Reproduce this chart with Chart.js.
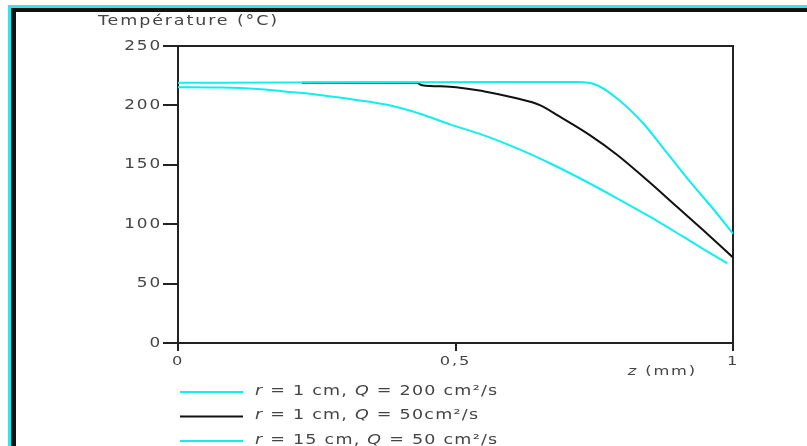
<!DOCTYPE html>
<html><head><meta charset="utf-8">
<script src="https://cdn.jsdelivr.net/npm/chart.js@4.4.0/dist/chart.umd.min.js"></script>
<style>
html,body{margin:0;padding:0;background:#fff;}
#wrap{position:relative;width:807px;height:446px;overflow:hidden;background:#fff;}
canvas{position:absolute;left:0;top:0;}
.b1{position:absolute;left:8px;top:5px;right:-10px;bottom:-10px;border-top:3px solid #30e8ec;border-left:3px solid #30e8ec;}
.b2{position:absolute;left:11px;top:8px;right:-10px;bottom:-10px;border-top:4px solid #111;border-left:5px solid #111;}
</style></head><body>
<div id="wrap"><canvas id="c" width="807" height="446"></canvas><div class="b1"></div><div class="b2"></div></div>
<script>
// ---- data ----
const xTickValues = [0, 0.5, 1];
const xTickLabels = ['0', '0,5', '1'];
const yTickValues = [0, 50, 100, 150, 200, 250];
const yTitle = 'Température (°C)';
const xTitle = 'z (mm)';
const legendLabels = ['r = 1 cm, Q = 200 cm²/s', 'r = 1 cm, Q = 50cm²/s', 'r = 15 cm, Q = 50 cm²/s'];
const seriesColors = ['#12eef0', '#111111', '#12eef0'];

const zA = [0, 0.2, 0.4, 0.6, 0.72, 0.755, 0.796, 0.838, 0.881, 0.922, 0.964, 1.0];
const tA = [219, 219.3, 219.5, 219.6, 219.6, 217, 204, 185, 160, 136, 113, 92];

const zB = [0.223, 0.43, 0.44, 0.49, 0.55, 0.61, 0.652, 0.688, 0.742, 0.791, 0.845, 0.899, 0.946, 1.0];
const tB = [219, 219, 217, 215.8, 212, 206, 200.3, 190.5, 175, 158.5, 137.2, 114.7, 95.1, 72];

const zC = [0, 0.08, 0.144, 0.196, 0.225, 0.256, 0.315, 0.377, 0.436, 0.49, 0.55, 0.61, 0.67, 0.73, 0.791, 0.85, 0.91, 0.958, 0.989];
const tC = [215.2, 215, 213.8, 211.5, 210.4, 208.7, 205, 200.5, 193, 184, 175, 164, 151.3, 137.2, 121.8, 106.3, 89.5, 75.8, 67.3];

const seriesZ = [zA, zB, zC];
const seriesT = [tA, tB, tC];

const FONT = '"DejaVu Sans", sans-serif';
const TXT = '#444';
const SPACING = '1.5px';
const STRETCH = 1.25;

const datasets = seriesZ.map((zs, i) => ({
  label: legendLabels[i],
  data: zs.map((z, k) => ({x: z, y: seriesT[i][k]})),
  borderColor: seriesColors[i],
  borderWidth: 2,
  pointRadius: 0,
  fill: false,
  cubicInterpolationMode: 'monotone'
}));

function drawRich(ctx, str, x, y, size, measureOnly) {
  const parts = str.split(/([rQz])/).filter(s => s.length);
  let cx = x;
  for (const p of parts) {
    const it = (p === 'r' || p === 'Q' || p === 'z');
    ctx.font = (it ? 'italic ' : '') + size + 'px ' + FONT;
    if (!measureOnly) ctx.fillText(p, cx, y);
    cx += ctx.measureText(p).width;
  }
  return cx - x;
}

// wide-lettered text: stretch glyphs horizontally around their anchor
const stretchPlugin = {
  id: 'stretch',
  beforeInit(chart) {
    const ctx = chart.ctx;
    const of = ctx.fillText.bind(ctx);
    const om = ctx.measureText.bind(ctx);
    ctx.fillText = function (t, x, y, mw) {
      ctx.save();
      ctx.translate(x, y);
      ctx.scale(STRETCH, 1);
      of(t, 0, 0);
      ctx.restore();
    };
    ctx.measureText = function (t) {
      const m = om(t);
      return {width: m.width * STRETCH, actualBoundingBoxAscent: m.actualBoundingBoxAscent,
        actualBoundingBoxDescent: m.actualBoundingBoxDescent};
    };
  },
  beforeLayout(chart) { chart.ctx.letterSpacing = SPACING; },
  beforeDraw(chart) { chart.ctx.letterSpacing = SPACING; }
};

const framePlugin = {
  id: 'frame',
  beforeDatasetsDraw(chart) {
    const {ctx, chartArea: a} = chart;
    ctx.save();
    ctx.strokeStyle = '#222';
    ctx.lineWidth = 2;
    ctx.beginPath();
    ctx.moveTo(a.left, a.top);
    ctx.lineTo(a.right, a.top);
    ctx.lineTo(a.right, a.bottom);
    ctx.stroke();
    ctx.restore();
  }
};

const textPlugin = {
  id: 'texts',
  afterDraw(chart) {
    const {ctx, chartArea: a} = chart;
    ctx.save();
    ctx.letterSpacing = SPACING;
    ctx.fillStyle = TXT;
    ctx.textBaseline = 'middle';
    ctx.textAlign = 'left';
    // y title
    ctx.font = '14px ' + FONT;
    ctx.fillText(yTitle, a.left - 80, a.top - 25);
    // x title
    const w = drawRich(ctx, xTitle, 0, 0, 13, true);
    drawRich(ctx, xTitle, a.right - 36 - w, a.bottom + 29, 13, false);
    // legend
    ctx.letterSpacing = '1px';
    chart.data.datasets.forEach((ds, i) => {
      const y = a.bottom + 49 + i * 24.5;
      ctx.strokeStyle = ds.borderColor;
      ctx.lineWidth = 2;
      ctx.beginPath();
      ctx.moveTo(a.left + 2, y);
      ctx.lineTo(a.left + 65, y);
      ctx.stroke();
      ctx.fillStyle = TXT;
      drawRich(ctx, ds.label, a.left + 77, y - 1, 14, false);
    });
    ctx.restore();
  }
};

new Chart(document.getElementById('c'), {
  type: 'line',
  data: {datasets},
  plugins: [stretchPlugin, framePlugin, textPlugin],
  options: {
    responsive: false,
    animation: false,
    layout: {padding: {top: 46, right: 74, bottom: 0, left: 0}},
    plugins: {legend: {display: false}, tooltip: {enabled: false}, title: {display: false}},
    scales: {
      x: {
        type: 'linear', min: 0, max: 1,
        afterFit(s) { s.height = 103; },
        afterBuildTicks(s) { s.ticks = xTickValues.map(v => ({value: v})); },
        border: {display: true, color: '#222', width: 2},
        grid: {drawOnChartArea: false, drawTicks: true, tickLength: 8, color: '#222', lineWidth: 2},
        ticks: {
          padding: 3, color: TXT, font: {family: FONT, size: 13}, maxRotation: 0, autoSkip: false,
          callback: (v) => { const i = xTickValues.indexOf(v); return i >= 0 ? xTickLabels[i] : ''; }
        }
      },
      y: {
        type: 'linear', min: 0, max: 250,
        afterFit(s) { s.width = 178; },
        afterBuildTicks(s) { s.ticks = yTickValues.map(v => ({value: v})); },
        border: {display: true, color: '#222', width: 2},
        grid: {drawOnChartArea: false, drawTicks: true, tickLength: 15, color: '#222', lineWidth: 2},
        ticks: {padding: 1, color: TXT, font: {family: FONT, size: 13.5}, autoSkip: false}
      }
    }
  }
});
</script>
</body></html>
